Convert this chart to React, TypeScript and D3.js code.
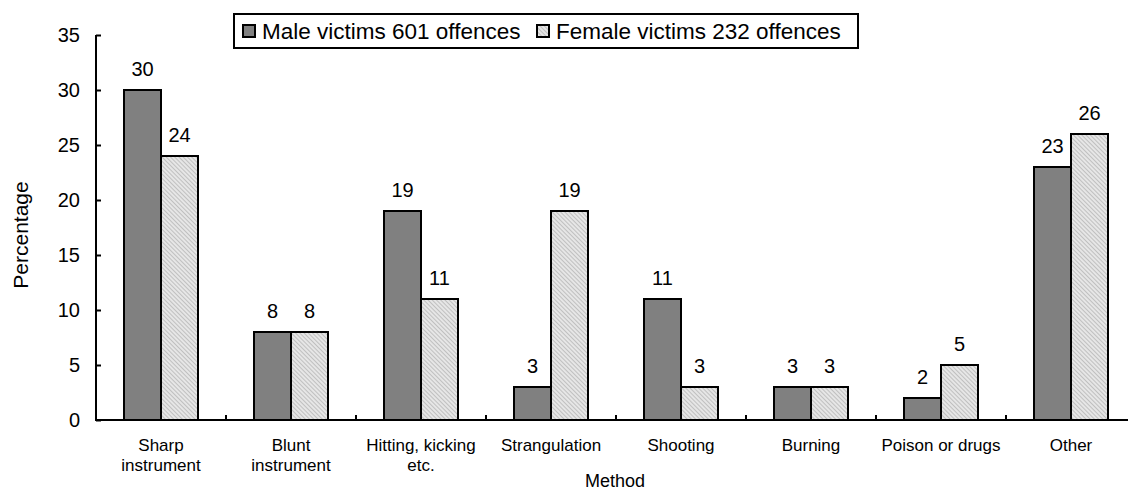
import { useEffect, useRef } from "react";
import * as d3 from "d3";

const categories = [
  "Sharp instrument",
  "Blunt instrument",
  "Hitting, kicking etc.",
  "Strangulation",
  "Shooting",
  "Burning",
  "Poison or drugs",
  "Other",
];
const categoryLines = [
  ["Sharp", "instrument"],
  ["Blunt", "instrument"],
  ["Hitting, kicking", "etc."],
  ["Strangulation"],
  ["Shooting"],
  ["Burning"],
  ["Poison or drugs"],
  ["Other"],
];
const maleValues = [30, 8, 19, 3, 11, 3, 2, 23];
const femaleValues = [24, 8, 11, 19, 3, 3, 5, 26];
const seriesNames = ["Male victims 601 offences", "Female victims 232 offences"];
const yTicks = [0, 5, 10, 15, 20, 25, 30, 35];

const width = 1128;
const height = 492;
const font = "'Liberation Sans', Arial, sans-serif";

const App = () => {
  const ref = useRef<SVGSVGElement>(null);

  useEffect(() => {
    document.body.style.margin = "0";
    if (!ref.current) return;
    const svg = d3.select(ref.current);
    svg.selectAll("*").remove();

    const defs = svg.append("defs");
    const pat = defs
      .append("pattern")
      .attr("id", "hatch")
      .attr("patternUnits", "userSpaceOnUse")
      .attr("width", 3)
      .attr("height", 3)
      .attr("patternTransform", "rotate(-45)");
    pat.append("rect").attr("width", 3).attr("height", 3).attr("fill", "#e6e6e6");
    pat.append("rect").attr("width", 1).attr("height", 3).attr("fill", "#c0c0c0");

    const x0 = d3.scaleBand<string>().domain(categories).range([96, 1136]);
    const x1 = d3.scaleBand<string>().domain(seriesNames).range([28, 102]);
    const y = d3.scaleLinear().domain([0, 35]).range([420, 35]);

    const series = [
      { name: seriesNames[0], values: maleValues, fill: "#808080" },
      { name: seriesNames[1], values: femaleValues, fill: "url(#hatch)" },
    ];

    // bars + value labels
    series.forEach((s) => {
      const g = svg.append("g");
      g.selectAll("rect")
        .data(s.values)
        .enter()
        .append("rect")
        .attr("x", (d, i) => x0(categories[i])! + x1(s.name)!)
        .attr("y", (d) => y(d))
        .attr("width", x1.bandwidth())
        .attr("height", (d) => y(0) - y(d))
        .attr("fill", s.fill)
        .attr("stroke", "#000")
        .attr("stroke-width", 2);
      g.selectAll("text")
        .data(s.values)
        .enter()
        .append("text")
        .attr("x", (d, i) => x0(categories[i])! + x1(s.name)! + x1.bandwidth() / 2)
        .attr("y", (d) => y(d) - 14)
        .attr("text-anchor", "middle")
        .attr("font-family", font)
        .attr("font-size", 20)
        .text((d) => d);
    });

    // y axis
    const yAxis = d3
      .axisLeft(y)
      .tickValues(yTicks)
      .tickSize(-5)
      .tickPadding(16);
    const ya = svg.append("g").attr("transform", "translate(96,0)").call(yAxis);
    ya.select(".domain").attr("stroke", "#000").attr("stroke-width", 2).attr("d", "M0,35V420");
    ya.selectAll(".tick line").attr("stroke", "#000").attr("stroke-width", 2);
    ya.selectAll(".tick text")
      .attr("font-family", font)
      .attr("font-size", 20)
      .attr("fill", "#000");

    // x axis
    svg
      .append("line")
      .attr("x1", 95)
      .attr("x2", width)
      .attr("y1", y(0))
      .attr("y2", y(0))
      .attr("stroke", "#000")
      .attr("stroke-width", 2);
    svg
      .append("g")
      .selectAll("line")
      .data(categories.slice(1))
      .enter()
      .append("line")
      .attr("x1", (d) => x0(d)!)
      .attr("x2", (d) => x0(d)!)
      .attr("y1", y(0))
      .attr("y2", y(0) - 5)
      .attr("stroke", "#000")
      .attr("stroke-width", 2);

    const cat = svg.append("g");
    categories.forEach((c, i) => {
      const cx = x0(c)! + x0.bandwidth() / 2;
      const t = cat
        .append("text")
        .attr("x", cx)
        .attr("y", 451)
        .attr("text-anchor", "middle")
        .attr("font-family", font)
        .attr("font-size", 17);
      categoryLines[i].forEach((line, j) => {
        t.append("tspan")
          .attr("x", cx)
          .attr("dy", j === 0 ? 0 : 20)
          .text(line);
      });
    });

    svg
      .append("text")
      .attr("x", 615)
      .attr("y", 487)
      .attr("text-anchor", "middle")
      .attr("font-family", font)
      .attr("font-size", 18)
      .text("Method");

    svg
      .append("text")
      .attr("transform", "translate(28,235) rotate(-90)")
      .attr("text-anchor", "middle")
      .attr("font-family", font)
      .attr("font-size", 21)
      .text("Percentage");

    // legend
    const lg = svg.append("g");
    lg.append("rect")
      .attr("x", 234)
      .attr("y", 14)
      .attr("width", 624)
      .attr("height", 34)
      .attr("fill", "#fff")
      .attr("stroke", "#000")
      .attr("stroke-width", 2);
    const legendX = [243, 537];
    series.forEach((s, i) => {
      lg.append("rect")
        .attr("x", legendX[i])
        .attr("y", 25)
        .attr("width", 12)
        .attr("height", 12)
        .attr("fill", s.fill)
        .attr("stroke", "#000")
        .attr("stroke-width", 2);
      lg.append("text")
        .attr("x", legendX[i] + 19)
        .attr("y", 39)
        .attr("font-family", font)
        .attr("font-size", 22.5)
        .text(s.name);
    });
  }, []);

  return <svg ref={ref} width={width} height={height} style={{ display: "block" }} />;
};

export default App;
